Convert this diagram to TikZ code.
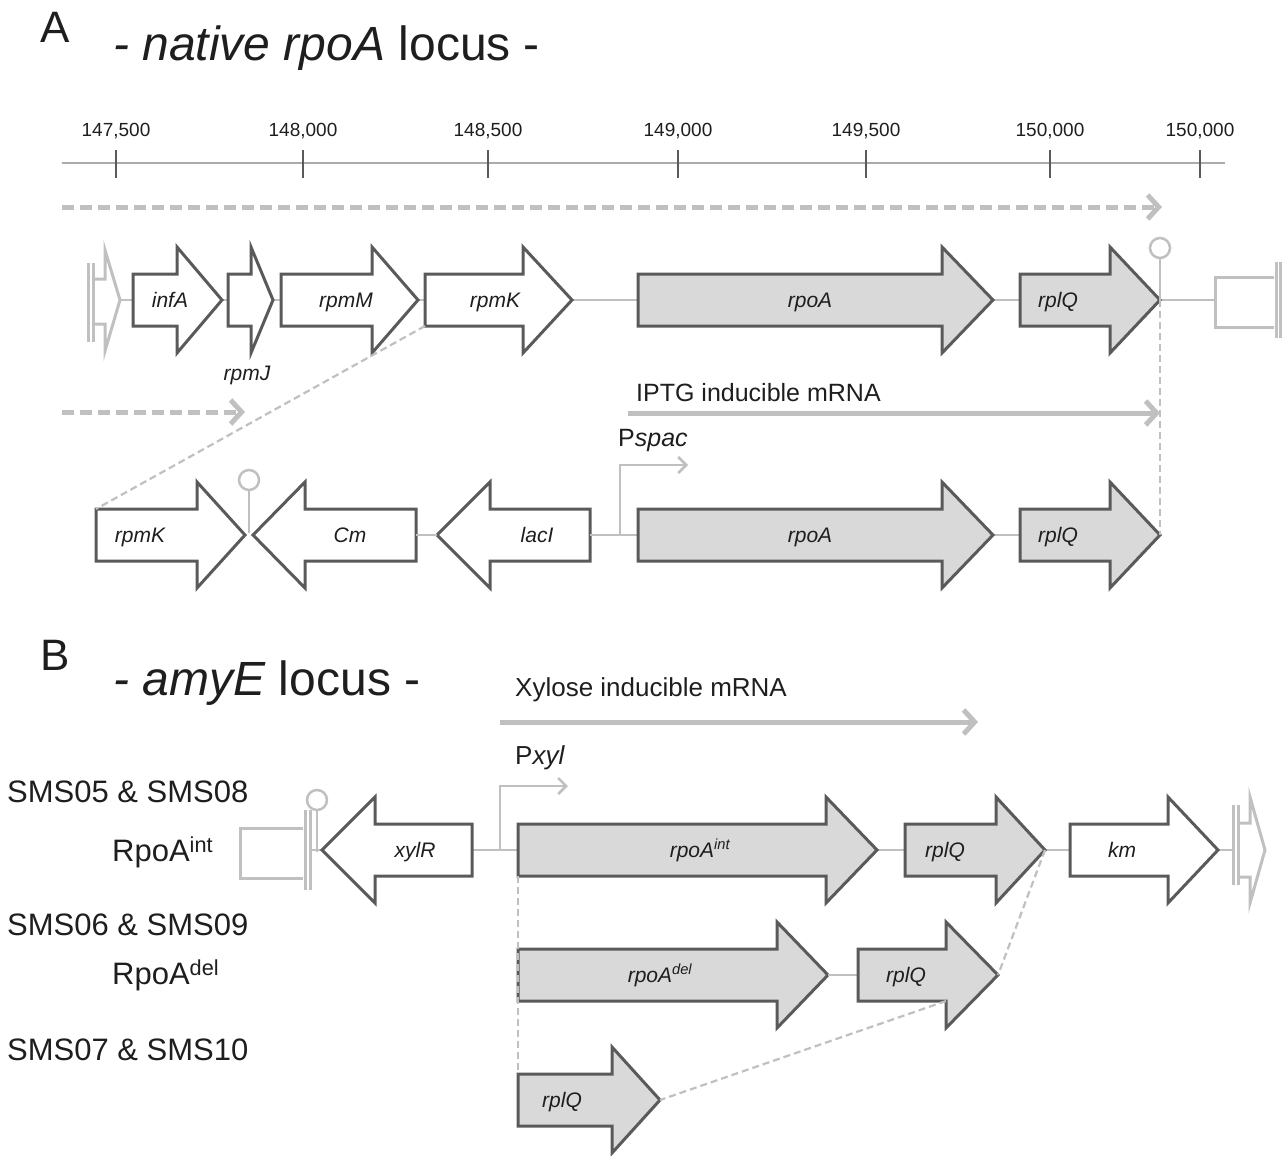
\documentclass[tikz,border=0pt]{standalone}
\usepackage{fontspec}
\setmainfont{Liberation Sans}
\usetikzlibrary{arrows.meta}

\definecolor{geneedge}{HTML}{5A5A5A}
\definecolor{genegrey}{HTML}{D9D9D9}
\definecolor{lightline}{HTML}{C0C0C0}
\definecolor{axisgrey}{HTML}{ABABAB}
\definecolor{tickgrey}{HTML}{5A5A5A}
\definecolor{ink}{HTML}{1E1E1E}

\tikzset{
  gene/.style={draw=geneedge, line width=3pt, fill=white, line join=miter},
  greygene/.style={gene, fill=genegrey},
  genelabel/.style={font=\fontsize{21}{25}\selectfont\itshape, text=ink, inner sep=0pt, anchor=base},
  ticklabel/.style={font=\fontsize{19}{22}\selectfont, text=ink, inner sep=0pt},
  sidelabel/.style={font=\fontsize{31}{35}\selectfont, text=ink, inner sep=0pt, anchor=west},
  mrnalabel/.style={font=\fontsize{25}{30}\selectfont, text=ink, inner sep=0pt, anchor=west},
  headline/.style={font=\fontsize{48}{56}\selectfont, text=ink, inner sep=0pt, anchor=west},
  panel/.style={font=\fontsize{44}{50}\selectfont, text=ink, inner sep=0pt},
  backbone/.style={draw=lightline, line width=1.5pt},
  glyph/.style={draw=lightline, line width=3pt, line join=miter},
  termstem/.style={draw=lightline, line width=2.5pt},
  termloop/.style={draw=lightline, line width=2.5pt, fill=white},
  mrna/.style={draw=lightline, line width=5pt, -{Straight Barb[length=11pt,width=24pt]}},
  dashedmrna/.style={mrna, dash pattern=on 12pt off 6pt},
  promo/.style={draw=lightline, line width=2.5pt, -{Straight Barb[length=8pt,width=16pt]}},
  linkline/.style={draw=lightline, line width=2.2pt, dash pattern=on 7pt off 4pt},
  axisline/.style={draw=axisgrey, line width=1.5pt},
  tickmark/.style={draw=tickgrey, line width=2.5pt},
}

% rightward gene arrow: name, tail x, head base x, tip x, centre y, style
\newcommand{\fwdgene}[6]{%
  \draw[#6] (#2,#5-26) -- (#3,#5-26) -- (#3,#5-53) -- (#4,#5) -- (#3,#5+53)
            -- (#3,#5+26) -- (#2,#5+26) -- cycle;
  \coordinate (#1-tail) at (#2,#5);
  \coordinate (#1-tip) at (#4,#5);
  \coordinate (#1-nw) at (#2,#5-26);
  \coordinate (#1-sw) at (#2,#5+26);
  \coordinate (#1-hbs) at (#3,#5+26);
}
% leftward gene arrow: name, tip x, head base x, tail x, centre y, style
\newcommand{\revgene}[6]{%
  \draw[#6] (#4,#5-26) -- (#3,#5-26) -- (#3,#5-53) -- (#2,#5) -- (#3,#5+53)
            -- (#3,#5+26) -- (#4,#5+26) -- cycle;
  \coordinate (#1-tip) at (#2,#5);
  \coordinate (#1-tail) at (#4,#5);
}

\begin{document}
\begin{tikzpicture}[x=1pt,y=-1pt]
\useasboundingbox (0,0) rectangle (1282,1156);

% ---------------- panel A ----------------
\node[panel] (panA) at (55,27) {A};
\node[headline] (titleA) at (113,48) {\textit{- native rpoA} locus -};

% coordinate axis
\coordinate (axL) at (62,163);
\coordinate (axR) at (1225,163);
\draw[axisline] (axL) -- (axR);
\foreach \xx/\lab [count=\i] in {116/{147,500},303/{148,000},488/{148,500},678/{149,000},866/{149,500},1050/{150,000},1200/{150,000}}{
  \coordinate (tk\i) at (\xx,163);
  \draw[tickmark] (\xx,150) -- (\xx,178);
  \node[ticklabel] (tl\i) at (\xx,131) {\lab};
}

% operon transcript
\coordinate (opS) at (62,207);
\coordinate (opE) at (1162,207);
\draw[dashedmrna] (opS) -- (opE);

% flanking glyphs of the native locus
\draw[glyph] (88,263) -- (88,342);
\draw[glyph] (93,263) -- (93,342);
\draw[glyph] (93,279) -- (105,279) -- (105,250) -- (120,300) -- (105,351) -- (105,324) -- (93,324);
\coordinate (lendA) at (120,300);
\draw[glyph] (1274,277) -- (1215,277) -- (1215,327) -- (1274,327);
\draw[glyph] (1276,262) -- (1276,338);
\draw[glyph] (1280,262) -- (1280,338);
\coordinate (rendA) at (1215,300);

\draw[backbone] (lendA) -- (rendA);

\fwdgene{infA}{133}{177}{222}{300}{gene}
\fwdgene{rpmJ}{228}{251}{273}{300}{gene}
\fwdgene{rpmM}{281}{372}{418}{300}{gene}
\fwdgene{rpmK}{425}{523}{572}{300}{gene}
\fwdgene{rpoA}{638}{942}{993}{300}{greygene}
\fwdgene{rplQ}{1020}{1110}{1160}{300}{greygene}

\node[genelabel] (l-infA) at (170,307) {infA};
\node[genelabel] (l-rpmJ) at (247,380) {rpmJ};
\node[genelabel] (l-rpmM) at (346,307) {rpmM};
\node[genelabel] (l-rpmK) at (495,307) {rpmK};
\node[genelabel] (l-rpoA) at (810,307) {rpoA};
\node[genelabel] (l-rplQ) at (1058,307) {rplQ};

% terminator after rplQ
\coordinate (termA) at (1160,258);
\draw[termstem] (rplQ-tip) -- (termA);
\draw[termloop] (1160,248) circle (10);

% transcripts
\coordinate (shS) at (62,412);
\coordinate (shE) at (245,412);
\draw[dashedmrna] (shS) -- (shE);
\node[mrnalabel] (iptg) at (636,393) {IPTG inducible mRNA};
\coordinate (ipS) at (628,413);
\coordinate (ipE) at (1160,413);
\draw[mrna] (ipS) -- (ipE);

% engineered locus
\fwdgene{rpmKb}{96}{197}{245}{535}{gene}
\revgene{Cm}{253}{305}{416}{535}{gene}
\revgene{lacI}{437}{490}{590}{535}{gene}
\draw[backbone] (Cm-tail) -- (lacI-tip);
\draw[backbone] (lacI-tail) -- (1020,535);
\fwdgene{rpoAb}{638}{942}{993}{535}{greygene}
\fwdgene{rplQb}{1020}{1110}{1160}{535}{greygene}

\node[genelabel] (l-rpmKb) at (140,542) {rpmK};
\node[genelabel] (l-Cm) at (350,542) {Cm};
\node[genelabel] (l-lacI) at (537,542) {lacI};
\node[genelabel] (l-rpoAb) at (810,542) {rpoA};
\node[genelabel] (l-rplQb) at (1058,542) {rplQ};

% terminator between rpmK and Cm
\coordinate (termB0) at (249,533);
\coordinate (termB) at (249,490);
\draw[termstem] (termB0) -- (termB);
\draw[termloop] (249,480) circle (10);

% Pspac promoter
\coordinate (pspac) at (620,535);
\draw[promo] (pspac) -- ++(0,-70) -- ++(68,0);
\node[mrnalabel] (l-pspac) at (618,440) {P\textit{spac}};

% correspondence lines
\draw[linkline] (rpmK-sw) -- (rpmKb-nw);
\draw[linkline] (rplQ-tip) -- (rplQb-tip);

% ---------------- panel B ----------------
\node[panel] (panB) at (55,655) {B};
\node[headline] (titleB) at (113,683) {\textit{- amyE} locus -};

\node[mrnalabel, font=\fontsize{26}{30}\selectfont] (xyl) at (515,690) {Xylose inducible mRNA};
\coordinate (xyS) at (500,722);
\coordinate (xyE) at (978,722);
\draw[mrna] (xyS) -- (xyE);

\node[sidelabel] (s1) at (7,792) {SMS05 \& SMS08};
\node[sidelabel] (r1) at (112,852) {RpoA\textsuperscript{int}};
\node[sidelabel] (s2) at (7,925) {SMS06 \& SMS09};
\node[sidelabel] (r2) at (112,975) {RpoA\textsuperscript{del}};
\node[sidelabel] (s3) at (7,1050) {SMS07 \& SMS10};

% amyE flanking glyphs
\draw[glyph] (303,828) -- (240,828) -- (240,878) -- (303,878);
\draw[glyph] (305,810) -- (305,890);
\draw[glyph] (310,810) -- (310,890);
\coordinate (lendB) at (310,850);
\draw[glyph] (1233,805) -- (1233,885);
\draw[glyph] (1238,805) -- (1238,885);
\draw[glyph] (1238,823) -- (1250,823) -- (1250,797) -- (1265,850) -- (1250,903) -- (1250,877) -- (1238,877);
\coordinate (rendB) at (1233,850);

\draw[backbone] (lendB) -- (rendB);

% hairpin next to the left flank
\coordinate (hpB0) at (317,852);
\coordinate (hpB) at (317,810);
\draw[termstem] (hpB0) -- (hpB);
\draw[termloop] (317,800) circle (10);

\revgene{xylR}{322}{375}{472}{850}{gene}
\fwdgene{rpoAint}{518}{826}{877}{850}{greygene}
\fwdgene{rplQc}{905}{996}{1045}{850}{greygene}
\fwdgene{km}{1070}{1168}{1218}{850}{gene}

\node[genelabel] (l-xylR) at (415,857) {xylR};
\node[genelabel] (l-rpoAint) at (700,857) {rpoA\textsuperscript{int}};
\node[genelabel] (l-rplQc) at (945,857) {rplQ};
\node[genelabel] (l-km) at (1122,857) {km};

% Pxyl promoter
\coordinate (pxyl) at (500,850);
\draw[promo] (pxyl) -- ++(0,-64) -- ++(68,0);
\node[mrnalabel, font=\fontsize{26}{30}\selectfont] (l-pxyl) at (515,758) {P\textit{xyl}};

% deletion construct
\fwdgene{rpoAdel}{518}{777}{828}{975}{greygene}
\draw[backbone] (rpoAdel-tip) -- (858,975);
\fwdgene{rplQd}{858}{946}{998}{975}{greygene}
\node[genelabel] (l-rpoAdel) at (660,982) {rpoA\textsuperscript{del}};
\node[genelabel] (l-rplQd) at (906,982) {rplQ};

% rplQ only construct
\fwdgene{rplQe}{518}{612}{660}{1100}{greygene}
\node[genelabel] (l-rplQe) at (562,1107) {rplQ};

% correspondence lines
\draw[linkline] (rpoAint-sw) -- (rplQe-nw);
\draw[linkline] (rplQc-tip) -- (rplQd-tip);
\draw[linkline] (rplQd-hbs) -- (rplQe-tip);
\end{tikzpicture}
\end{document}
